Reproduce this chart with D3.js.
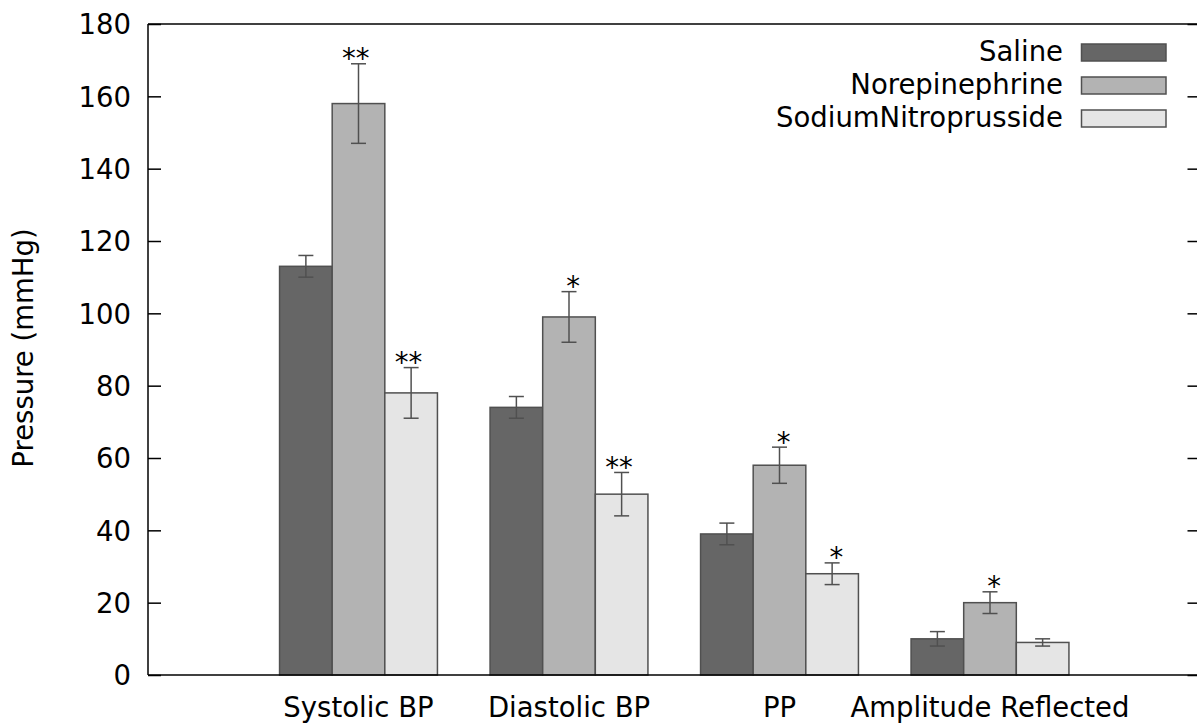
<!DOCTYPE html>
<html>
<head>
<meta charset="utf-8">
<script src="https://cdn.jsdelivr.net/npm/d3@7"></script>
<style>
  html, body { margin: 0; padding: 0; background: #fff; }
  svg text { font-family: "DejaVu Sans", sans-serif; }
</style>
</head>
<body>
<svg id="chart" width="1197" height="725"></svg>
<script>
// Haemodynamic measures under three infusions (mean ± error)
const categories = ["Systolic BP", "Diastolic BP", "PP", "Amplitude Reflected"];
const seriesNames = ["Saline", "Norepinephrine", "SodiumNitroprusside"];
const salineValues = [113, 74, 39, 10];
const salineErrors = [3, 3, 3, 2];
const norepinephrineValues = [158, 99, 58, 20];
const norepinephrineErrors = [11, 7, 5, 3];
const nitroprussideValues = [78, 50, 28, 9];
const nitroprussideErrors = [7, 6, 3, 1];
// significance marks per series, per category
const salineMarks = ["", "", "", ""];
const norepinephrineMarks = ["**", "*", "*", "*"];
const nitroprussideMarks = ["**", "**", "*", ""];
const yTicks = [0, 20, 40, 60, 80, 100, 120, 140, 160, 180];
const yLabel = "Pressure (mmHg)";

const fills = ["#666666", "#b3b3b3", "#e5e5e5"];
const edge = "#505050";

const series = [
  { name: seriesNames[0], values: salineValues, errors: salineErrors, marks: salineMarks },
  { name: seriesNames[1], values: norepinephrineValues, errors: norepinephrineErrors, marks: norepinephrineMarks },
  { name: seriesNames[2], values: nitroprussideValues, errors: nitroprussideErrors, marks: nitroprussideMarks }
];

const svg = d3.select("#chart");
const padLeft = 148, padRight = 1200.5, padTop = 24, padBottom = 675;
const fontSize = 27.5;

// x in category units: groups at 0..3, range spans -1..4
const x = d3.scaleLinear().domain([-1, 4]).range([padLeft, padRight]);
const y = d3.scaleLinear().domain([0, 180]).range([padBottom, padTop]);
const slot = 0.25; // 3 bars + 1 gap per unit

const plot = svg.append("g");

// bars
series.forEach((s, j) => {
  const off = (j - 1) * slot;
  const g = plot.append("g");
  g.selectAll("rect").data(s.values).enter().append("rect")
    .attr("x", (d, i) => x(i + off - slot / 2))
    .attr("width", (d, i) => x(i + off + slot / 2) - x(i + off - slot / 2))
    .attr("y", d => y(d))
    .attr("height", d => y(0) - y(d))
    .attr("fill", fills[j])
    .attr("stroke", edge)
    .attr("stroke-width", 1.5);
});

// error bars and significance marks
series.forEach((s, j) => {
  const off = (j - 1) * slot;
  const g = plot.append("g").attr("stroke", edge).attr("stroke-width", 1.5);
  s.values.forEach((v, i) => {
    const cx = x(i + off);
    const hi = y(v + s.errors[i]), lo = y(v - s.errors[i]);
    g.append("line").attr("x1", cx).attr("x2", cx).attr("y1", hi).attr("y2", lo);
    g.append("line").attr("x1", cx - 7.5).attr("x2", cx + 7.5).attr("y1", hi).attr("y2", hi);
    g.append("line").attr("x1", cx - 7.5).attr("x2", cx + 7.5).attr("y1", lo).attr("y2", lo);
    if (s.marks[i]) {
      plot.append("text")
        .attr("x", cx + 11)
        .attr("y", hi + 4.5)
        .attr("text-anchor", "end")
        .attr("font-size", fontSize)
        .attr("fill", "#000")
        .text(s.marks[i]);
    }
  });
});

// frame
const frame = svg.append("g").attr("stroke", "#000").attr("stroke-width", 1.5).attr("fill", "none");
frame.append("line").attr("x1", padLeft).attr("x2", padLeft).attr("y1", padTop).attr("y2", padBottom);
frame.append("line").attr("x1", padLeft).attr("x2", padRight).attr("y1", padBottom).attr("y2", padBottom);
frame.append("line").attr("x1", padLeft).attr("x2", padRight).attr("y1", padTop).attr("y2", padTop);
frame.append("line").attr("x1", padRight).attr("x2", padRight).attr("y1", padTop).attr("y2", padBottom);

// y ticks, inward on both sides
const yAxisL = d3.axisLeft(y).tickValues(yTicks).tickSize(-13).tickPadding(0).tickFormat(d3.format("d"));
const gl = svg.append("g").attr("transform", `translate(${padLeft},0)`).call(yAxisL);
gl.select(".domain").remove();
gl.selectAll(".tick line").attr("stroke", "#000").attr("stroke-width", 1.5);
gl.selectAll(".tick text")
  .attr("x", -17)
  .attr("dy", "0.36em")
  .attr("font-size", fontSize)
  .attr("font-family", "DejaVu Sans, sans-serif")
  .attr("fill", "#000");

const yAxisR = d3.axisRight(y).tickValues(yTicks).tickSize(-13).tickFormat("");
const gr = svg.append("g").attr("transform", `translate(${padRight},0)`).call(yAxisR);
gr.select(".domain").remove();
gr.selectAll(".tick line").attr("stroke", "#000").attr("stroke-width", 1.5);

// category labels
svg.append("g").selectAll("text").data(categories).enter().append("text")
  .attr("x", (d, i) => x(i))
  .attr("y", 717)
  .attr("text-anchor", "middle")
  .attr("font-size", fontSize)
  .attr("fill", "#000")
  .text(d => d);

// y axis title
svg.append("text")
  .attr("transform", "translate(33,348) rotate(-90)")
  .attr("text-anchor", "middle")
  .attr("font-size", fontSize)
  .attr("fill", "#000")
  .text(yLabel);

// legend
const legend = svg.append("g");
series.forEach((s, j) => {
  const base = 60.5 + j * 33;
  legend.append("text")
    .attr("x", 1063)
    .attr("y", base)
    .attr("text-anchor", "end")
    .attr("font-size", fontSize)
    .attr("fill", "#000")
    .text(s.name);
  legend.append("rect")
    .attr("x", 1081.5)
    .attr("y", base - 16.5)
    .attr("width", 84.5)
    .attr("height", 17)
    .attr("fill", fills[j])
    .attr("stroke", edge)
    .attr("stroke-width", 1.5);
});
</script>
</body>
</html>
